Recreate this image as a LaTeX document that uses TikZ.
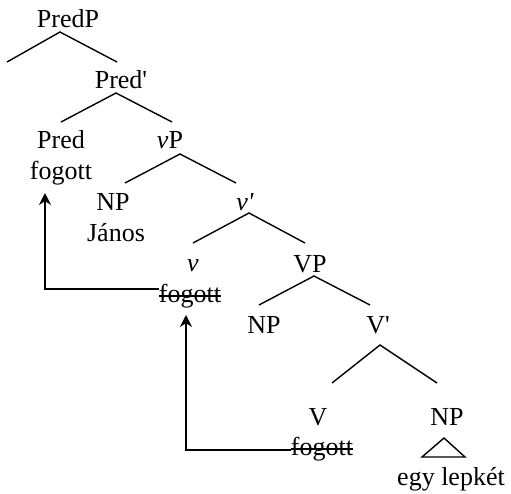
\documentclass[tikz,border=0pt]{standalone}
\usepackage{fontspec}
\setmainfont{Liberation Serif}
\usetikzlibrary{arrows.meta}

\begin{document}
\begin{tikzpicture}[x=0.5pt, y=-0.5pt, >=Stealth]
    % Define the styles
    \tikzset{
        lab/.style = {anchor=base, inner sep=0pt, font=\fontsize{13}{15}\selectfont},
        branch/.style = {draw, line width=0.7pt},
        move/.style = {draw, line width=0.7pt, -{Stealth[length=6pt, width=6pt]}},
    }
    \useasboundingbox (0,0) rectangle (511,494);

    % Nodes placement
    \node [lab] (predp) at (68,27) {PredP};
    \node [lab] (predbar) at (121,88) {Pred\textquotesingle};
    \node [lab] (pred) at (61,148) {Pred};
    \node [lab] (predf) at (61,179) {fogott};
    \node [lab] (vp) at (170,148) {\textit{v}P};
    \node [lab] (specnp) at (113,210) {NP};
    \node [lab] (janos) at (116,241) {János};
    \node [lab] (vbar) at (245,210) {\textit{v\textquotesingle}};
    \node [lab] (v) at (193,271) {\textit{v}};
    \node [lab] (fv) at (190,302) {fogott};
    \node [lab] (VP) at (310,272) {VP};
    \node [lab] (np) at (264,333) {NP};
    \node [lab] (Vbar) at (378,333) {V\textquotesingle};
    \node [lab] (V) at (318,425) {V};
    \node [lab] (ff) at (322,455) {fogott};
    \node [lab] (obj) at (447,425) {NP};
    \node [lab] (lepke) at (451,485) {egy lepkét};

    % Branches
    \draw [branch] (7,62) -- (60,32) -- (117,62);
    \draw [branch] (61,122) -- (116,93) -- (172,122);
    \draw [branch] (125,183) -- (180,154) -- (236,183);
    \draw [branch] (193,243) -- (249,213) -- (305,243);
    \draw [branch] (259,305) -- (314,276) -- (370,305);
    \draw [branch] (332,383) -- (380,345) -- (437,383);
    \draw [branch] (444,438) -- (422,457) -- (465,457) -- cycle;

    % Struck-out copies
    \draw [branch] ([yshift=3pt]fv.base west) -- ([yshift=3pt]fv.base east);
    \draw [branch] ([yshift=3pt]ff.base west) -- ([yshift=3pt]ff.base east);

    % Movement arrows
    \draw [move] ([yshift=6.5pt]fv.base west) -| ([xshift=-8pt, yshift=-7pt]predf.base);
    \draw [move] ([yshift=2.5pt]ff.base west) -| ([xshift=-2pt, yshift=-6.5pt]fv.base);

\end{tikzpicture}
\end{document}
